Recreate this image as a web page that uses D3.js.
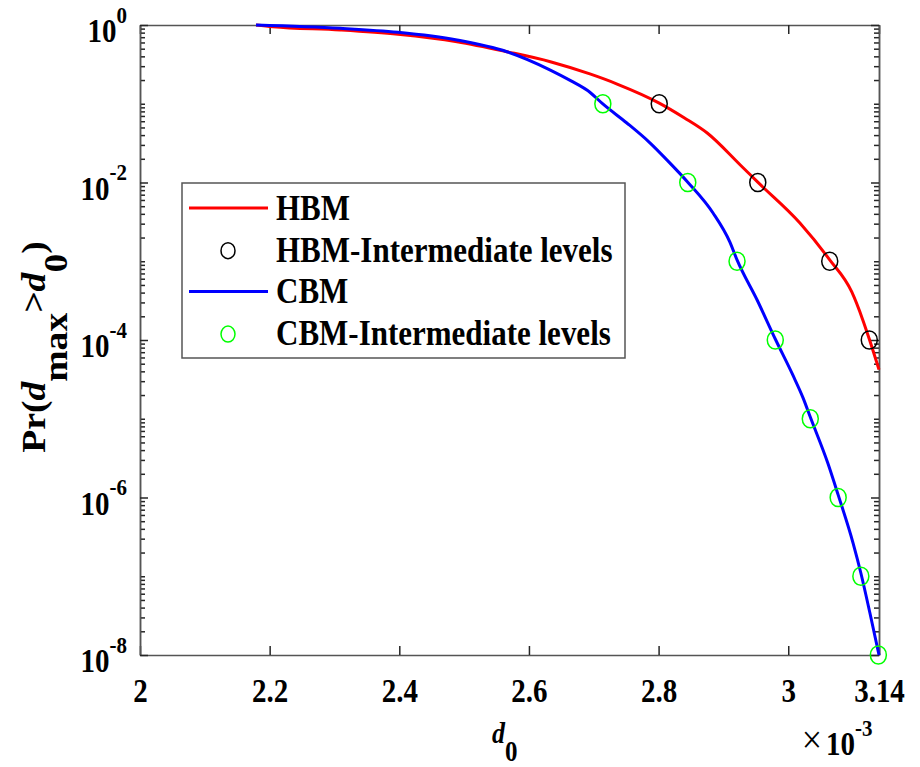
<!DOCTYPE html>
<html>
<head>
<meta charset="utf-8">
<script src="https://cdn.jsdelivr.net/npm/d3@7"></script>
<style>
	body { margin: 0; background: #fff; }
	svg { display: block; }
</style>
</head>
<body>
<div id="chart"></div>
<script>
/**
 * Data (d0 in units of 1e-3)
 */
var hbmX = [2.179, 2.205, 2.309, 2.398, 2.489, 2.566, 2.633, 2.694, 2.736, 2.801, 2.840, 2.875, 2.926, 2.953, 3.018, 3.064, 3.098, 3.115, 3.125, 3.140];
var hbmP = [1, 0.95, 0.864, 0.762, 0.614, 0.458, 0.342, 0.239, 0.178, 0.102, 0.066, 0.0425, 0.0167, 0.0101, 3.06e-3, 1.04e-3, 4.07e-4, 1.8e-4, 1.03e-4, 4.2e-5];

var cbmX = [2.179, 2.309, 2.398, 2.489, 2.566, 2.633, 2.665, 2.694, 2.714, 2.751, 2.787, 2.813, 2.845, 2.884, 2.910, 2.921, 2.952, 2.980, 3.007, 3.023, 3.034, 3.061, 3.077, 3.100, 3.112, 3.126, 3.140];
var cbmP = [1, 0.908, 0.808, 0.645, 0.458, 0.268, 0.195, 0.14, 0.0993, 0.057, 0.0317, 0.0193, 0.0101, 4.1e-3, 1.75e-3, 1.04e-3, 3.22e-4, 1.03e-4, 3.6e-5, 1.83e-5, 1.05e-5, 2.74e-6, 1.08e-6, 2.64e-7, 1.1e-7, 3.41e-8, 1e-8];

var hbmLevelX = [2.801, 2.953, 3.064, 3.125];
var hbmLevelP = [1e-1, 1e-2, 1e-3, 1e-4];

var cbmLevelX = [2.714, 2.845, 2.921, 2.980, 3.034, 3.077, 3.112, 3.139];
var cbmLevelP = [1e-1, 1e-2, 1e-3, 1e-4, 1e-5, 1e-6, 1e-7, 1e-8];

var xTicks = [2, 2.2, 2.4, 2.6, 2.8, 3, 3.14];
var xTickLabels = ["2", "2.2", "2.4", "2.6", "2.8", "3", "3.14"];
var yTickExponents = [0, -2, -4, -6, -8];

var legendLabels = ["HBM", "HBM-Intermediate levels", "CBM", "CBM-Intermediate levels"];

/**
 * Layout
 */
var W = 920, H = 767;
var plot = { left: 140, right: 879, top: 25, bottom: 655 };
var STRETCH = 1.14;		// picture is a bit taller than wide
var AXIS_COLOR = "#262626";
var FONT = "'Liberation Serif', 'Times New Roman', Times, serif";

// Stretched text at (x, y)
function place(sel, x, y) {
	return sel.attr("transform", "translate(" + x + "," + y + ") scale(1," + STRETCH + ")");
}

var svg = d3.select("#chart").append("svg")
	.attr("width", W)
	.attr("height", H)
	.attr("font-family", FONT)
	.attr("font-weight", "bold");

// Scales
var x = d3.scaleLinear().domain([2, 3.14]).range([plot.left, plot.right]);
var y = d3.scaleLog().domain([1e-8, 1]).range([plot.bottom, plot.top]);

var yMajor = yTickExponents.map(function(e) { return Math.pow(10, e); });
var yMinor = [];
for (var k = -8; k < 0; k++)
	for (var n = 1; n < 10; n++) {
		var v = n * Math.pow(10, k);
		if (yTickExponents.indexOf(k) < 0 || n > 1) yMinor.push(v);
	}

/**
 * Axes (ticks inward, box)
 */
function styleAxis(g) {
	g.selectAll("path.domain").attr("stroke", "#555").attr("stroke-width", 1.5);
	g.selectAll(".tick line").attr("stroke", AXIS_COLOR).attr("stroke-width", 1.5);
	g.attr("font-family", FONT).attr("font-size", null);
}

var gBottom = svg.append("g")
	.attr("transform", "translate(0," + plot.bottom + ")")
	.call(d3.axisBottom(x).tickValues(xTicks).tickSizeInner(-9).tickSizeOuter(0)
		.tickFormat(function(d, i) { return xTickLabels[i]; }))
	.call(styleAxis);
gBottom.selectAll(".tick text")
	.attr("y", null).attr("dy", null)
	.attr("font-size", 29)
	.attr("fill", "#000")
	.each(function() { place(d3.select(this), 0, 47); });

svg.append("g")
	.attr("transform", "translate(0," + plot.top + ")")
	.call(d3.axisTop(x).tickValues(xTicks).tickSizeInner(-9).tickSizeOuter(0).tickFormat(""))
	.call(styleAxis);

svg.append("g")
	.attr("transform", "translate(" + plot.left + ",0)")
	.call(d3.axisLeft(y).tickValues(yMinor).tickSizeInner(-5).tickSizeOuter(0).tickFormat(""))
	.call(styleAxis);
svg.append("g")
	.attr("transform", "translate(" + plot.left + ",0)")
	.call(d3.axisLeft(y).tickValues(yMajor).tickSizeInner(-8).tickSizeOuter(0).tickFormat(""))
	.call(styleAxis);

svg.append("g")
	.attr("transform", "translate(" + plot.right + ",0)")
	.call(d3.axisRight(y).tickValues(yMinor).tickSizeInner(-5).tickSizeOuter(0).tickFormat(""))
	.call(styleAxis);
svg.append("g")
	.attr("transform", "translate(" + plot.right + ",0)")
	.call(d3.axisRight(y).tickValues(yMajor).tickSizeInner(-8).tickSizeOuter(0).tickFormat(""))
	.call(styleAxis);

// Y tick labels 10^k
yTickExponents.forEach(function(e) {
	var t = svg.append("text").attr("text-anchor", "end");
	place(t, 127, y(Math.pow(10, e)) + 17);
	t.append("tspan").attr("font-size", 29).text("10");
	t.append("tspan").attr("font-size", 21).attr("dy", -17).text(String(e));
});

// Exponent of x axis
var xTimes = svg.append("text")
	.attr("font-size", 36).attr("font-weight", "normal")
	.attr("text-anchor", "middle").text("\u00d7");
place(xTimes, 812, 753);
var xExp = svg.append("text");
place(xExp, 826, 755);
xExp.append("tspan").attr("font-size", 29).text("10");
xExp.append("tspan").attr("font-size", 21).attr("dy", -17).text("-3");

/**
 * Axis labels
 */
var xLabel = svg.append("text");
place(xLabel, 492, 743);
xLabel.append("tspan").attr("font-size", 26).attr("font-style", "italic").text("d");
xLabel.append("tspan").attr("font-size", 25).attr("dy", 16).text("0");

var yLabel = svg.append("text")
	.attr("text-anchor", "middle")
	.attr("transform", "translate(45,347) rotate(-90) scale(" + STRETCH + ",1)");
yLabel.append("tspan").attr("font-size", 33).text("Pr(");
yLabel.append("tspan").attr("font-size", 33).attr("font-style", "italic").text("d");
yLabel.append("tspan").attr("font-size", 33).attr("dy", 22).text("max");
yLabel.append("tspan").attr("font-size", 33).attr("dy", -22).text(">");
yLabel.append("tspan").attr("font-size", 33).attr("font-style", "italic").text("d");
yLabel.append("tspan").attr("font-size", 33).attr("dy", 22).text("0");
yLabel.append("tspan").attr("font-size", 33).attr("dy", -22).text(")");

/**
 * Curves and markers
 */
svg.append("clipPath").attr("id", "plotClip")
	.append("rect")
	.attr("x", plot.left).attr("y", plot.top - 2)
	.attr("width", plot.right - plot.left + 2).attr("height", plot.bottom - plot.top + 4);

var line = d3.line()
	.curve(d3.curveMonotoneX)
	.x(function(d) { return x(d[0]); })
	.y(function(d) { return y(d[1]); });

function zip(a, b) { return a.map(function(v, i) { return [v, b[i]]; }); }

var gCurves = svg.append("g").attr("clip-path", "url(#plotClip)");
gCurves.append("path")
	.datum(zip(hbmX, hbmP))
	.attr("d", line)
	.attr("fill", "none").attr("stroke", "#ff0000").attr("stroke-width", 3).attr("stroke-linejoin", "round");
gCurves.append("path")
	.datum(zip(cbmX, cbmP))
	.attr("d", line)
	.attr("fill", "none").attr("stroke", "#0000ff").attr("stroke-width", 3).attr("stroke-linejoin", "round");

svg.append("g").selectAll("ellipse")
	.data(zip(hbmLevelX, hbmLevelP))
	.join("ellipse")
	.attr("cx", function(d) { return x(d[0]); })
	.attr("cy", function(d) { return y(d[1]); })
	.attr("rx", 8).attr("ry", 8 * STRETCH)
	.attr("fill", "none").attr("stroke", "#000").attr("stroke-width", 1.5);

svg.append("g").selectAll("ellipse")
	.data(zip(cbmLevelX, cbmLevelP))
	.join("ellipse")
	.attr("cx", function(d) { return x(d[0]); })
	.attr("cy", function(d) { return y(d[1]); })
	.attr("rx", 8).attr("ry", 8 * STRETCH)
	.attr("fill", "none").attr("stroke", "#00ff00").attr("stroke-width", 1.5);

/**
 * Legend
 */
var legend = svg.append("g");
legend.append("rect")
	.attr("x", 182).attr("y", 183).attr("width", 443).attr("height", 175)
	.attr("fill", "#fff").attr("stroke", "#555").attr("stroke-width", 1.5);

var legendRows = [
	{ kind: "line", color: "#ff0000" },
	{ kind: "marker", color: "#000" },
	{ kind: "line", color: "#0000ff" },
	{ kind: "marker", color: "#00ff00" }
];
legendRows.forEach(function(row, i) {
	var base = 220 + i * 41.7;
	if (row.kind == "line")
		legend.append("line")
			.attr("x1", 189).attr("x2", 268)
			.attr("y1", base - 12).attr("y2", base - 12)
			.attr("stroke", row.color).attr("stroke-width", 3);
	else
		legend.append("ellipse")
			.attr("cx", 228).attr("cy", base - 11)
			.attr("rx", 7).attr("ry", 7 * STRETCH)
			.attr("fill", "none").attr("stroke", row.color).attr("stroke-width", 1.5);
	var t = legend.append("text").attr("font-size", 31).text(legendLabels[i]);
	place(t, 276, base);
});
</script>
</body>
</html>
